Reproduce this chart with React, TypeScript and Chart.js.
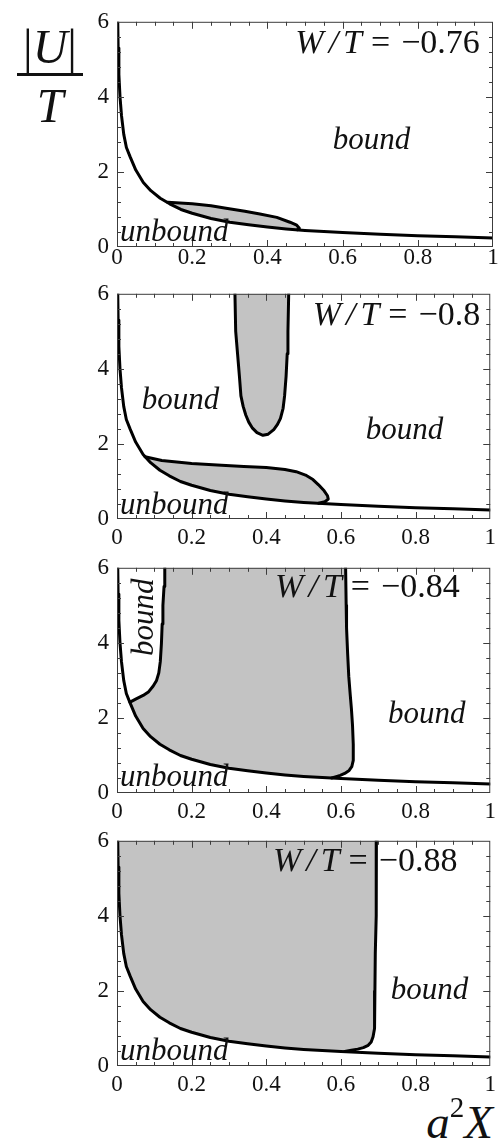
import React, { useEffect, useRef } from "react";
import { Chart, registerables } from "chart.js";

Chart.register(...registerables);

type P = [number, number];

// ---------------- data ----------------
const xTickLabels = ["0", "0.2", "0.4", "0.6", "0.8", "1"];
const yTickLabels = ["0", "2", "4", "6"];
const wOverT = ["\u22120.76", "\u22120.8", "\u22120.84", "\u22120.88"];

// boundary between unbound / bound (same in every panel)
const mainCurve: P[] = [
  [0.002, 6.0], [0.003, 5.3], [0.005, 4.6], [0.008, 4.0], [0.012, 3.5],
  [0.018, 3.0], [0.025, 2.65], [0.035, 2.4], [0.05, 2.05], [0.07, 1.72],
  [0.09, 1.5], [0.115, 1.3], [0.14, 1.15], [0.17, 1.0], [0.2, 0.9],
  [0.25, 0.76], [0.3, 0.66], [0.35, 0.59], [0.4, 0.53], [0.45, 0.48],
  [0.5, 0.44], [0.55, 0.41], [0.6, 0.385], [0.7, 0.34], [0.8, 0.3],
  [0.9, 0.27], [1.0, 0.24],
];

// W/T = -0.76 : upper edge of the small lens
const lens1Edge: P[] = [
  [0.135, 1.19], [0.2, 1.155], [0.25, 1.1], [0.29, 1.035], [0.34, 0.95],
  [0.38, 0.88], [0.425, 0.79], [0.46, 0.66], [0.478, 0.58], [0.485, 0.5],
  [0.48, 0.46],
];

// W/T = -0.8 : lower lens and upper finger
const lens2Edge: P[] = [
  [0.075, 1.66], [0.12, 1.56], [0.2, 1.48], [0.28, 1.43], [0.34, 1.4],
  [0.4, 1.37], [0.45, 1.32], [0.48, 1.26], [0.505, 1.17], [0.525, 1.05],
  [0.54, 0.91], [0.555, 0.75], [0.564, 0.62], [0.566, 0.53], [0.557, 0.46],
  [0.54, 0.42],
];
const finger2: P[] = [
  [0.316, 6.0], [0.318, 5.0], [0.323, 4.4], [0.328, 3.8], [0.332, 3.28],
  [0.338, 3.0], [0.345, 2.77], [0.353, 2.58], [0.363, 2.42], [0.375, 2.3],
  [0.391, 2.23], [0.405, 2.26], [0.42, 2.38], [0.43, 2.52], [0.438, 2.68],
  [0.445, 2.95], [0.449, 3.28], [0.453, 3.8], [0.456, 4.4], [0.458, 5.0],
  [0.46, 6.0],
];

// W/T = -0.84 : small bound pocket and right edge of the grey region
const pocket3Edge: P[] = [
  [0.035, 2.42], [0.05, 2.5], [0.07, 2.6], [0.085, 2.7], [0.097, 2.85],
  [0.106, 3.0], [0.112, 3.2], [0.116, 3.5], [0.119, 3.98], [0.121, 4.5],
  [0.123, 5.0], [0.126, 5.5], [0.128, 6.0],
];
const right3Edge: P[] = [
  [0.6125, 6.0], [0.614, 5.0], [0.615, 4.4], [0.618, 3.7], [0.621, 3.1],
  [0.625, 2.6], [0.628, 2.25], [0.631, 1.8], [0.633, 1.3], [0.633, 0.87],
  [0.629, 0.7], [0.622, 0.6], [0.61, 0.52], [0.598, 0.47], [0.585, 0.43],
  [0.575, 0.4],
];

// W/T = -0.88 : right edge of the grey region
const right4Edge: P[] = [
  [0.695, 6.0], [0.695, 5.0], [0.694, 4.0], [0.692, 3.0], [0.691, 2.0],
  [0.691, 1.28], [0.689, 1.0], [0.686, 0.78], [0.681, 0.64], [0.673, 0.55],
  [0.66, 0.49], [0.645, 0.45], [0.628, 0.42], [0.61, 0.39],
];

// ---------------- styling / layout ----------------
const SERIF = '"Liberation Serif", "Times New Roman", serif';
const GRAY = "#c3c3c3";
const PANEL_TOPS = [15, 287, 561, 834];
const X_LABEL_PAD = [-3, 5, 5, 5];
const PAD_TOP = 15;
const PLOT_H = 232;
const XAXIS_H = 30;
const CANVAS_H = PAD_TOP + PLOT_H + XAXIS_H;
const W = 501;

const mainBetween = (a: number, b: number): P[] =>
  mainCurve.filter((p) => p[0] > a && p[0] < b).reverse();

type Label = { t: string; x: number; y: number; align?: "left" | "center"; rot?: boolean };
type Panel = {
  fills: P[][];
  lines: P[][];
  wt: { x: number; y: number };
  labels: Label[];
};

const panels: Panel[] = [
  {
    fills: [[...lens1Edge, ...mainBetween(0.135, 0.48)]],
    lines: [mainCurve, lens1Edge],
    wt: { x: 0.965, y: 5.16 },
    labels: [
      { t: "bound", x: 0.677, y: 2.61 },
      { t: "unbound", x: 0.008, y: 0.15, align: "left" },
    ],
  },
  {
    fills: [[...lens2Edge, ...mainBetween(0.075, 0.54)], finger2],
    lines: [mainCurve, lens2Edge, finger2],
    wt: { x: 0.973, y: 5.18 },
    labels: [
      { t: "bound", x: 0.17, y: 2.92 },
      { t: "bound", x: 0.77, y: 2.12 },
      { t: "unbound", x: 0.008, y: 0.14, align: "left" },
    ],
  },
  {
    fills: [[...pocket3Edge, ...right3Edge, ...mainBetween(0.035, 0.575)]],
    lines: [mainCurve, pocket3Edge, right3Edge],
    wt: { x: 0.918, y: 5.22 },
    labels: [
      { t: "bound", x: 0.096, y: 4.68, rot: true },
      { t: "bound", x: 0.83, y: 1.86 },
      { t: "unbound", x: 0.008, y: 0.18, align: "left" },
    ],
  },
  {
    fills: [[...right4Edge, ...mainBetween(-1, 0.61)]],
    lines: [mainCurve, right4Edge],
    wt: { x: 0.912, y: 5.2 },
    labels: [
      { t: "bound", x: 0.837, y: 1.79 },
      { t: "unbound", x: 0.008, y: 0.155, align: "left" },
    ],
  },
];

const toPts = (arr: P[]) => arr.map(([x, y]) => ({ x, y }));

const decoPlugin = {
  id: "panelDeco",
  afterDatasetsDraw(chart: any, _args: any, opts: any) {
    const { ctx, chartArea: a, scales } = chart;
    const xs = scales.x;
    const ys = scales.y;
    ctx.save();
    // frame
    ctx.strokeStyle = "#3c3c3c";
    ctx.lineWidth = 1;
    ctx.strokeRect(a.left + 0.5, a.top + 0.5, a.right - a.left - 1, a.bottom - a.top - 1);
    // inward ticks on all sides
    ctx.beginPath();
    for (let i = 1; i < 20; i++) {
      const px = Math.round(xs.getPixelForValue(i / 20)) + 0.5;
      const len = i % 4 === 0 ? 7 : 4;
      ctx.moveTo(px, a.bottom);
      ctx.lineTo(px, a.bottom - len);
      ctx.moveTo(px, a.top);
      ctx.lineTo(px, a.top + len);
    }
    for (let j = 1; j < 15; j++) {
      const py = Math.round(ys.getPixelForValue(j * 0.4)) + 0.5;
      const len = j % 5 === 0 ? 7 : 4;
      ctx.moveTo(a.left, py);
      ctx.lineTo(a.left + len, py);
      ctx.moveTo(a.right, py);
      ctx.lineTo(a.right - len, py);
    }
    ctx.stroke();

    ctx.fillStyle = "#111";
    ctx.textBaseline = "alphabetic";
    // region labels
    const labFont = `italic 31px ${SERIF}`;
    for (const l of opts.labels as Label[]) {
      const px = xs.getPixelForValue(l.x);
      const py = ys.getPixelForValue(l.y);
      ctx.font = labFont;
      if (l.rot) {
        ctx.save();
        ctx.translate(px, py);
        ctx.rotate(-Math.PI / 2);
        ctx.textAlign = "center";
        ctx.fillText(l.t, 0, 0);
        ctx.restore();
      } else {
        ctx.textAlign = l.align || "center";
        ctx.fillText(l.t, px, py);
      }
    }
    // W/T = value
    const size = 34;
    const it = `italic ${size}px ${SERIF}`;
    const rm = `${size}px ${SERIF}`;
    const pieces: [string, string, number][] = [
      ["W", it, 5],
      ["/", it, 5],
      ["T", it, 9],
      ["=", rm, 11],
      [opts.value, rm, 0],
    ];
    let total = 0;
    const widths = pieces.map(([t, f, g]) => {
      ctx.font = f;
      const w = ctx.measureText(t).width;
      total += w + g;
      return w;
    });
    let cx = xs.getPixelForValue(opts.wt.x) - total;
    const by = ys.getPixelForValue(opts.wt.y);
    ctx.textAlign = "left";
    pieces.forEach(([t, f, g], k) => {
      ctx.font = f;
      ctx.fillText(t, cx, by);
      cx += widths[k] + g;
    });
    ctx.restore();
  },
};

function PanelChart({ panel, index }: { panel: Panel; index: number }) {
  const ref = useRef<HTMLCanvasElement | null>(null);
  useEffect(() => {
    if (!ref.current) return;
    const datasets: any[] = [];
    panel.fills.forEach((poly) =>
      datasets.push({
        data: toPts(poly),
        fill: "shape",
        backgroundColor: GRAY,
        borderColor: "rgba(0,0,0,0)",
        borderWidth: 0,
        pointRadius: 0,
        tension: 0,
        order: 2,
      })
    );
    panel.lines.forEach((ln) =>
      datasets.push({
        data: toPts(ln),
        fill: false,
        borderColor: "#000",
        borderWidth: 3,
        borderJoinStyle: "round",
        borderCapStyle: "round",
        pointRadius: 0,
        tension: 0,
        order: 1,
      })
    );
    const chart = new Chart(ref.current, {
      type: "line",
      data: { datasets },
      plugins: [decoPlugin],
      options: {
        animation: false,
        responsive: false,
        events: [],
        layout: { padding: { top: PAD_TOP, right: 8, left: 0, bottom: 0 } },
        plugins: {
          legend: { display: false },
          tooltip: { enabled: false },
          filler: { propagate: false, drawTime: "beforeDatasetsDraw" },
          panelDeco: { labels: panel.labels, wt: panel.wt, value: wOverT[index] },
        } as any,
        scales: {
          x: {
            type: "linear",
            min: 0,
            max: 1,
            grid: { display: false, drawTicks: false },
            border: { display: false },
            ticks: {
              stepSize: 0.2,
              autoSkip: false,
              maxRotation: 0,
              padding: X_LABEL_PAD[index],
              color: "#111",
              font: { family: SERIF, size: 23 },
              callback: (_v: any, i: number) => xTickLabels[i],
            },
            afterFit: (s: any) => {
              s.height = XAXIS_H;
            },
          },
          y: {
            type: "linear",
            min: 0,
            max: 6,
            grid: { display: false, drawTicks: false },
            border: { display: false },
            ticks: {
              stepSize: 2,
              padding: 8,
              color: "#111",
              font: { family: SERIF, size: 23 },
              callback: (_v: any, i: number) => yTickLabels[i],
            },
            afterFit: (s: any) => {
              s.width = 117;
            },
          },
        },
      } as any,
    });
    return () => chart.destroy();
  }, [panel, index]);
  return (
    <canvas
      ref={ref}
      width={W}
      height={CANVAS_H}
      style={{
        position: "absolute",
        left: 0,
        top: PANEL_TOPS[index] - PAD_TOP,
        width: W,
        height: CANVAS_H,
      }}
    />
  );
}

export default function App() {
  const base = 0.8375; // baseline offset for Liberation Serif when line-height = font-size
  return (
    <div
      style={{
        position: "absolute",
        left: 0,
        top: 0,
        width: W,
        height: 1144,
        background: "#fff",
        fontFamily: SERIF,
        color: "#111",
      }}
    >
      {panels.map((p, i) => (
        <PanelChart key={i} panel={p} index={i} />
      ))}
      {/* y-axis title |U| / T */}
      <div
        style={{
          position: "absolute",
          left: 17,
          width: 66,
          top: 63 - base * 48,
          fontSize: 48,
          lineHeight: "48px",
          textAlign: "center",
          whiteSpace: "nowrap",
        }}
      >
        |<span style={{ fontStyle: "italic" }}>U</span>|
      </div>
      <div
        style={{ position: "absolute", left: 17, top: 73, width: 66, height: 3, background: "#111" }}
      />
      <div
        style={{
          position: "absolute",
          left: 17,
          width: 66,
          top: 122 - base * 48,
          fontSize: 48,
          lineHeight: "48px",
          textAlign: "center",
          fontStyle: "italic",
        }}
      >
        T
      </div>
      {/* x-axis title a^2 X */}
      <div
        style={{
          position: "absolute",
          left: 300,
          width: 193,
          top: 1138 - base * 47,
          fontSize: 47,
          lineHeight: "47px",
          textAlign: "right",
          whiteSpace: "nowrap",
        }}
      >
        <span style={{ fontStyle: "italic" }}>a</span>
        <span style={{ fontSize: 29, position: "relative", top: -21, lineHeight: 0 }}>2</span>
        <span style={{ fontStyle: "italic" }}>X</span>
      </div>
    </div>
  );
}
